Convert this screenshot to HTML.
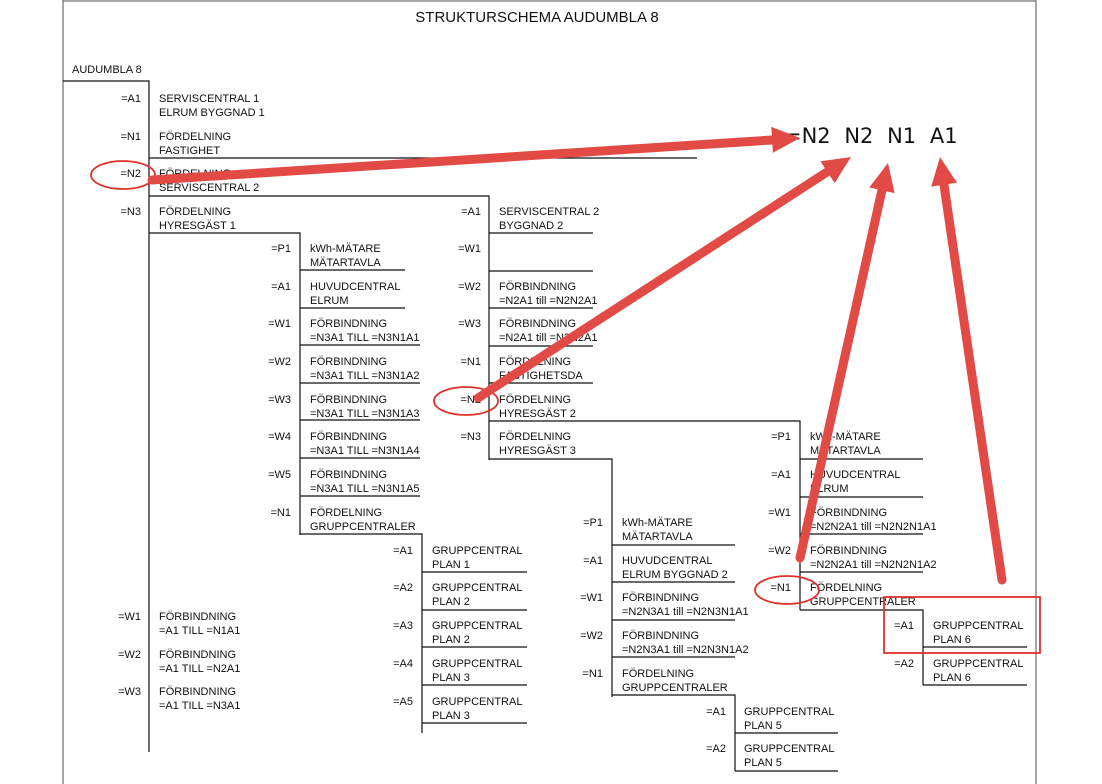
<!DOCTYPE html>
<html><head><meta charset="utf-8"><style>
html,body{margin:0;padding:0;background:#fff;}
svg{display:block;}
text{font-family:"Liberation Sans",sans-serif;font-size:11px;fill:#111;}
</style></head><body>
<svg width="1102" height="784" viewBox="0 0 1102 784">
<g stroke="#888" stroke-width="1.5" fill="none">
<line x1="63" y1="0" x2="63" y2="784"/><line x1="1036" y1="0" x2="1036" y2="784"/><line x1="63" y1="1" x2="1036" y2="1"/>
</g>
<text x="537" y="22" text-anchor="middle" style="font-size:15px">STRUKTURSCHEMA AUDUMBLA 8</text>
<text x="72" y="73">AUDUMBLA 8</text>
<g stroke="#111" stroke-width="1.2" fill="none">
<path d="M63 81H149V752"/>
<path d="M149 158H697"/>
<path d="M149 196H489V460"/>
<path d="M149 233H300V535"/>
<path d="M300 270H405M300 308H405M300 345H420M300 383H420M300 420H420M300 458H420M300 496H420"/>
<path d="M300 534H422V733"/>
<path d="M422 572H527M422 610H527M422 647H527M422 685H527M422 723H527"/>
<path d="M489 233H593M489 271H593M489 308H593M489 346H593M489 383H593"/>
<path d="M489 421H800V610"/>
<path d="M489 459H612V697"/>
<path d="M800 459H923M800 497H923M800 534H923M800 572H923"/>
<path d="M800 610H923V685"/>
<path d="M923 647H1027M923 685H1027"/>
<path d="M612 545H735M612 582H735M612 620H735M612 657H735"/>
<path d="M612 695H735V771"/>
<path d="M735 733H838M735 771H838"/>
</g>
<g>
<text x="141" y="102" text-anchor="end">=A1</text><text x="159" y="102">SERVISCENTRAL 1</text><text x="159" y="116">ELRUM BYGGNAD 1</text>
<text x="141" y="140" text-anchor="end">=N1</text><text x="159" y="140">FÖRDELNING</text><text x="159" y="154">FASTIGHET</text>
<text x="141" y="177" text-anchor="end">=N2</text><text x="159" y="177">FÖRDELNING</text><text x="159" y="191">SERVISCENTRAL 2</text>
<text x="141" y="215" text-anchor="end">=N3</text><text x="159" y="215">FÖRDELNING</text><text x="159" y="229">HYRESGÄST 1</text>
<text x="141" y="620" text-anchor="end">=W1</text><text x="159" y="620">FÖRBINDNING</text><text x="159" y="634">=A1 TILL =N1A1</text>
<text x="141" y="658" text-anchor="end">=W2</text><text x="159" y="658">FÖRBINDNING</text><text x="159" y="672">=A1 TILL =N2A1</text>
<text x="141" y="695" text-anchor="end">=W3</text><text x="159" y="695">FÖRBINDNING</text><text x="159" y="709">=A1 TILL =N3A1</text>
<text x="291" y="252" text-anchor="end">=P1</text><text x="310" y="252">kWh-MÄTARE</text><text x="310" y="266">MÄTARTAVLA</text>
<text x="291" y="290" text-anchor="end">=A1</text><text x="310" y="290">HUVUDCENTRAL</text><text x="310" y="304">ELRUM</text>
<text x="291" y="327" text-anchor="end">=W1</text><text x="310" y="327">FÖRBINDNING</text><text x="310" y="341">=N3A1 TILL =N3N1A1</text>
<text x="291" y="365" text-anchor="end">=W2</text><text x="310" y="365">FÖRBINDNING</text><text x="310" y="379">=N3A1 TILL =N3N1A2</text>
<text x="291" y="403" text-anchor="end">=W3</text><text x="310" y="403">FÖRBINDNING</text><text x="310" y="417">=N3A1 TILL =N3N1A3</text>
<text x="291" y="440" text-anchor="end">=W4</text><text x="310" y="440">FÖRBINDNING</text><text x="310" y="454">=N3A1 TILL =N3N1A4</text>
<text x="291" y="478" text-anchor="end">=W5</text><text x="310" y="478">FÖRBINDNING</text><text x="310" y="492">=N3A1 TILL =N3N1A5</text>
<text x="291" y="516" text-anchor="end">=N1</text><text x="310" y="516">FÖRDELNING</text><text x="310" y="530">GRUPPCENTRALER</text>
<text x="413" y="554" text-anchor="end">=A1</text><text x="432" y="554">GRUPPCENTRAL</text><text x="432" y="568">PLAN 1</text>
<text x="413" y="591" text-anchor="end">=A2</text><text x="432" y="591">GRUPPCENTRAL</text><text x="432" y="605">PLAN 2</text>
<text x="413" y="629" text-anchor="end">=A3</text><text x="432" y="629">GRUPPCENTRAL</text><text x="432" y="643">PLAN 2</text>
<text x="413" y="667" text-anchor="end">=A4</text><text x="432" y="667">GRUPPCENTRAL</text><text x="432" y="681">PLAN 3</text>
<text x="413" y="705" text-anchor="end">=A5</text><text x="432" y="705">GRUPPCENTRAL</text><text x="432" y="719">PLAN 3</text>
<text x="481" y="215" text-anchor="end">=A1</text><text x="499" y="215">SERVISCENTRAL 2</text><text x="499" y="229">BYGGNAD 2</text>
<text x="481" y="252" text-anchor="end">=W1</text>
<text x="481" y="290" text-anchor="end">=W2</text><text x="499" y="290">FÖRBINDNING</text><text x="499" y="304">=N2A1 till =N2N2A1</text>
<text x="481" y="327" text-anchor="end">=W3</text><text x="499" y="327">FÖRBINDNING</text><text x="499" y="341">=N2A1 till =N2N2A1</text>
<text x="481" y="365" text-anchor="end">=N1</text><text x="499" y="365">FÖRDELNING</text><text x="499" y="379">FASTIGHETSDA</text>
<text x="481" y="403" text-anchor="end">=N2</text><text x="499" y="403">FÖRDELNING</text><text x="499" y="417">HYRESGÄST 2</text>
<text x="481" y="440" text-anchor="end">=N3</text><text x="499" y="440">FÖRDELNING</text><text x="499" y="454">HYRESGÄST 3</text>
<text x="791" y="440" text-anchor="end">=P1</text><text x="810" y="440">kWh-MÄTARE</text><text x="810" y="454">MÄTARTAVLA</text>
<text x="791" y="478" text-anchor="end">=A1</text><text x="810" y="478">HUVUDCENTRAL</text><text x="810" y="492">ELRUM</text>
<text x="791" y="516" text-anchor="end">=W1</text><text x="810" y="516">FÖRBINDNING</text><text x="810" y="530">=N2N2A1 till =N2N2N1A1</text>
<text x="791" y="554" text-anchor="end">=W2</text><text x="810" y="554">FÖRBINDNING</text><text x="810" y="568">=N2N2A1 till =N2N2N1A2</text>
<text x="791" y="591" text-anchor="end">=N1</text><text x="810" y="591">FÖRDELNING</text><text x="810" y="605">GRUPPCENTRALER</text>
<text x="914" y="629" text-anchor="end">=A1</text><text x="933" y="629">GRUPPCENTRAL</text><text x="933" y="643">PLAN 6</text>
<text x="914" y="667" text-anchor="end">=A2</text><text x="933" y="667">GRUPPCENTRAL</text><text x="933" y="681">PLAN 6</text>
<text x="603" y="526" text-anchor="end">=P1</text><text x="622" y="526">kWh-MÄTARE</text><text x="622" y="540">MÄTARTAVLA</text>
<text x="603" y="564" text-anchor="end">=A1</text><text x="622" y="564">HUVUDCENTRAL</text><text x="622" y="578">ELRUM BYGGNAD 2</text>
<text x="603" y="601" text-anchor="end">=W1</text><text x="622" y="601">FÖRBINDNING</text><text x="622" y="615">=N2N3A1 till =N2N3N1A1</text>
<text x="603" y="639" text-anchor="end">=W2</text><text x="622" y="639">FÖRBINDNING</text><text x="622" y="653">=N2N3A1 till =N2N3N1A2</text>
<text x="603" y="677" text-anchor="end">=N1</text><text x="622" y="677">FÖRDELNING</text><text x="622" y="691">GRUPPCENTRALER</text>
<text x="726" y="715" text-anchor="end">=A1</text><text x="744" y="715">GRUPPCENTRAL</text><text x="744" y="729">PLAN 5</text>
<text x="726" y="752" text-anchor="end">=A2</text><text x="744" y="752">GRUPPCENTRAL</text><text x="744" y="766">PLAN 5</text>
</g>
<text x="784" y="143" style="font-family:'DejaVu Sans',sans-serif;font-size:21px;fill:#111;word-spacing:7px">=N2 N2 N1 A1</text>
<g fill="none" stroke="#e0312b" stroke-width="1.8">
<ellipse cx="123" cy="175" rx="32" ry="14"/>
<ellipse cx="466" cy="401" rx="32" ry="14"/>
<ellipse cx="787" cy="590" rx="32" ry="14"/>
<rect x="884" y="597" width="156" height="56"/>
</g>
<g stroke="#e24b45" stroke-width="9" stroke-linecap="round" fill="#e24b45">
<line x1="152" y1="180" x2="772" y2="140"/>
<line x1="478" y1="398" x2="827" y2="172"/>
<line x1="800" y1="558" x2="882" y2="190"/>
<line x1="1002" y1="580" x2="944" y2="185"/>
</g>
<g fill="#e24b45">
<polygon points="800,138 772.9,152.8 771.3,126.8"/>
<polygon points="851,157 834.6,183.1 820.4,161.3"/>
<polygon points="888,163 894.6,193.1 869.2,187.5"/>
<polygon points="940,157 957,182.8 931.2,186.6"/>
</g>
</svg>
</body></html>
